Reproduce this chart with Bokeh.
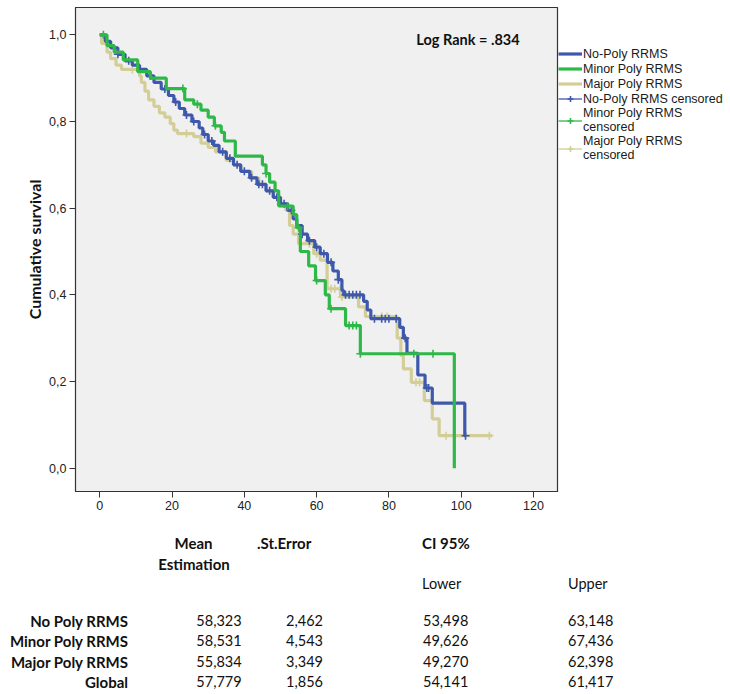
import numpy as np
from bokeh.plotting import figure
from bokeh.models import (Range1d, FixedTicker, Label, Legend, LegendItem,
                          CustomJSTickFormatter, Div)
from bokeh.layouts import column
from bokeh.embed import file_html
from bokeh.resources import INLINE

# ---------------- data ----------------
x_ticks = [0, 20, 40, 60, 80, 100, 120]
y_ticks = [0.0, 0.2, 0.4, 0.6, 0.8, 1.0]

# No-Poly RRMS : step times and survival after each step
nopoly_t = [0, 1.5, 3, 5, 7, 9, 11, 13, 15, 17, 19, 20.5, 22, 23.5, 25.5, 27.5,
            28.5, 30, 31.5, 33, 35, 37, 39, 41.5, 43.5, 46, 48, 50, 52, 53.5,
            54.5, 56, 57.5, 59.5, 61, 63, 64.5, 66, 67, 67.5, 73, 74, 75, 83,
            84, 85, 88, 90, 92, 101]
nopoly_s = [1.0, 0.985, 0.97, 0.955, 0.94, 0.93, 0.92, 0.905, 0.89, 0.875, 0.86,
            0.845, 0.83, 0.815, 0.80, 0.785, 0.77, 0.755, 0.745, 0.73, 0.715,
            0.70, 0.685, 0.67, 0.655, 0.64, 0.625, 0.61, 0.595, 0.575, 0.56,
            0.54, 0.525, 0.51, 0.495, 0.475, 0.455, 0.435, 0.41, 0.40, 0.385,
            0.365, 0.345, 0.325, 0.30, 0.265, 0.215, 0.185, 0.15, 0.075]
nopoly_end = 101.2
nopoly_cens = [5, 8, 14, 18, 21, 24, 26, 29, 31, 34, 36, 38, 40, 42, 44, 45,
               47, 49, 51, 53, 56, 58, 60, 62, 64, 66, 68, 69, 70, 71, 72, 76,
               78, 79, 80, 82, 84.5, 90.5, 91, 101.2]

# Minor Poly RRMS
minor_t = [0, 2, 4, 6.5, 10.5, 14, 18.4, 23.5, 26, 28, 30, 31.7, 33.6, 34.5,
           37.5, 45, 46, 47, 48.5, 49.5, 53.5, 54.5, 55.5, 57.8, 59.7, 62.4,
           63.5, 68, 72.1, 98.1]
minor_s = [1.0, 0.975, 0.96, 0.942, 0.915, 0.90, 0.876, 0.85, 0.84, 0.826,
           0.81, 0.79, 0.775, 0.755, 0.72, 0.70, 0.68, 0.66, 0.64, 0.605,
           0.585, 0.555, 0.50, 0.467, 0.433, 0.40, 0.368, 0.329, 0.264, 0.0]
minor_end = 98.1
minor_cens = [1, 23, 27, 32, 46, 52, 55, 60, 64, 69, 70, 71, 72.1, 86.9, 92.2]

# Major Poly RRMS
major_t = [0, 0.5, 2, 3, 4.5, 6, 11, 11.5, 12.5, 13.5, 15, 16.5, 18, 19.5,
           20.5, 21.5, 26, 28, 30, 32, 35, 37, 39, 42, 44, 46, 48, 50, 51.5,
           52.5, 53.5, 55, 59.2, 61, 62.9, 66.6, 71.6, 73.5, 82.3, 83.3, 84,
           86.2, 89.8, 92, 93.9]
major_s = [1.0, 0.98, 0.96, 0.945, 0.93, 0.92, 0.905, 0.89, 0.87, 0.85, 0.835,
           0.82, 0.81, 0.795, 0.78, 0.772, 0.765, 0.75, 0.74, 0.73, 0.71, 0.70,
           0.685, 0.67, 0.655, 0.64, 0.625, 0.61, 0.595, 0.56, 0.54, 0.518,
           0.495, 0.48, 0.414, 0.395, 0.372, 0.35, 0.30, 0.26, 0.229, 0.198,
           0.156, 0.114, 0.075]
major_end = 108.6
major_cens = [9, 24, 50, 58, 60, 64, 65, 66.5, 67, 75, 78, 79.5, 87.5, 88.5,
              95.8, 107.8]

groups = ["No-Poly RRMS", "Minor Poly RRMS", "Major Poly RRMS"]
colors = ["#3E58AC", "#2EB848", "#D3CE97"]
log_rank_text = "Log Rank = .834"

# table
tbl_head1 = ["Mean", ".St.Error", "CI 95%"]
tbl_head2 = ["Estimation"]
tbl_head3 = ["Lower", "Upper"]
tbl_rows = ["No Poly RRMS", "Minor Poly RRMS", "Major Poly RRMS", "Global"]
tbl_mean = ["58,323", "58,531", "55,834", "57,779"]
tbl_se = ["2,462", "4,543", "3,349", "1,856"]
tbl_lower = ["53,498", "49,626", "49,270", "54,141"]
tbl_upper = ["63,148", "67,436", "62,398", "61,417"]

# ---------------- main chart ----------------
W = 730
FRAME_W = 482
FRAME_H = 484
B_LEFT, B_TOP, B_BOTTOM = 75, 7, 27
p = figure(frame_width=FRAME_W, frame_height=FRAME_H, output_backend="svg",
           toolbar_location=None,
           x_range=Range1d(-6.72, 126.65), y_range=Range1d(-0.0538, 1.063),
           min_border_left=B_LEFT, min_border_right=W - B_LEFT - FRAME_W,
           min_border_top=B_TOP, min_border_bottom=B_BOTTOM)
MAIN_H = B_TOP + FRAME_H + B_BOTTOM
p.background_fill_color = "#F0F0F0"
p.border_fill_color = "white"
p.outline_line_color = "#333333"
p.outline_line_width = 1.2
p.grid.visible = False

for ax in (p.xaxis[0], p.yaxis[0]):
    ax.axis_line_color = "#333333"
    ax.major_tick_line_color = "#333333"
    ax.major_tick_out = 6
    ax.major_tick_in = 0
    ax.minor_tick_line_color = None
    ax.major_label_text_font = "Liberation Sans"
    ax.major_label_text_font_size = "12.5px"
    ax.major_label_text_color = "#222222"
    ax.major_label_standoff = 3

p.xaxis.ticker = FixedTicker(ticks=x_ticks)
p.yaxis.ticker = FixedTicker(ticks=y_ticks)
p.yaxis.formatter = CustomJSTickFormatter(
    code="return tick.toFixed(1).replace('.', ',');")
p.yaxis.axis_label = "Cumulative survival"
p.yaxis.axis_label_text_font = "Lato"
p.yaxis.axis_label_text_font_style = "bold"
p.yaxis.axis_label_text_font_size = "16px"
p.yaxis.axis_label_text_color = "#111111"
p.yaxis.axis_label_standoff = 2


def step_val(ts, ss, t):
    idx = np.searchsorted(np.asarray(ts), t, side="right") - 1
    return ss[max(idx, 0)]


series = [(nopoly_t, nopoly_s, nopoly_end, nopoly_cens),
          (minor_t, minor_s, minor_end, minor_cens),
          (major_t, major_s, major_end, major_cens)]

tmp = {}
for i in [2, 0, 1]:
    ts, ss, tend, cens = series[i]
    xs = list(ts) + ([tend] if tend > ts[-1] else [])
    ys = list(ss) + ([ss[-1]] if tend > ts[-1] else [])
    r = p.step(xs, ys, mode="after", line_color=colors[i], line_width=3.2)
    cy = [step_val(ts, ss, c) for c in cens]
    c = p.scatter(cens, cy, marker="cross", size=8, line_color=colors[i],
                  line_width=1.6)
    # legend-only helper line (draws nothing in the plot)
    d = p.line([np.nan], [np.nan], line_color=colors[i], line_width=1.3)
    tmp[i] = (r, c, d)

items = [LegendItem(label=groups[i], renderers=[tmp[i][0]]) for i in range(3)]
items.append(LegendItem(label=groups[0] + " censored", renderers=[tmp[0][2], tmp[0][1]]))
items.append(LegendItem(label=groups[1] + "\ncensored", renderers=[tmp[1][2], tmp[1][1]]))
items.append(LegendItem(label=groups[2] + "\ncensored", renderers=[tmp[2][2], tmp[2][1]]))

LEG_H = 4 * 15 + 2 * 30
legend = Legend(items=items, location=(1, FRAME_H - 35 - LEG_H), border_line_color=None,
                background_fill_alpha=0, padding=0, margin=0, spacing=0,
                glyph_width=24, glyph_height=15, label_height=15,
                label_standoff=1, label_text_font="Liberation Sans",
                label_text_font_size="12.5px", label_text_color="#1a1a1a",
                label_text_line_height=1.15)
p.add_layout(legend, "right")

p.add_layout(Label(x=87.6, y=0.989, text=log_rank_text, text_font="Lato",
                   text_font_style="bold", text_font_size="14.5px",
                   text_baseline="middle", text_color="#111111"))

# ---------------- table (HTML, absolutely positioned) ----------------
H = 694
TBL_H = H - MAIN_H
top = MAIN_H  # window y where the table block starts


def cell(text, wx, wy, align, bold, size):
    tx = {"left": "0", "center": "-50%", "right": "-100%"}[align]
    return ('<span style="position:absolute;left:%.1fpx;top:%.1fpx;'
            'transform:translate(%s,-50%%);white-space:nowrap;line-height:1;'
            'font-family:Lato;font-size:%spx;font-weight:%s;color:#111111;">%s</span>'
            % (wx, wy - top, tx, size, "bold" if bold else "normal", text))


cells = []
cells.append(cell(tbl_head1[0], 193.5, 543, "center", True, 15))
cells.append(cell(tbl_head2[0], 194, 564, "center", True, 15))
cells.append(cell(tbl_head1[1], 257, 543, "left", True, 15))
cells.append(cell(tbl_head1[2], 422, 543, "left", True, 15))
cells.append(cell(tbl_head3[0], 422, 584, "left", False, 14.5))
cells.append(cell(tbl_head3[1], 568, 584, "left", False, 14.5))
for k in range(len(tbl_rows)):
    yy = 621 + 20.3 * k
    cells.append(cell(tbl_rows[k], 128, yy, "right", True, 15))
    cells.append(cell(tbl_mean[k], 241.7, yy, "right", False, 14.5))
    cells.append(cell(tbl_se[k], 323, yy, "right", False, 14.5))
    cells.append(cell(tbl_lower[k], 423, yy, "left", False, 14.5))
    cells.append(cell(tbl_upper[k], 568, yy, "left", False, 14.5))

html = ('<div style="position:relative;width:%dpx;height:%dpx;margin:0;padding:0;">'
        % (W, TBL_H)) + "".join(cells) + "</div>"
table = Div(text=html, width=W, height=TBL_H, margin=0)

layout = column(p, table, spacing=0)
open("out.html", "w").write(file_html(layout, INLINE))
